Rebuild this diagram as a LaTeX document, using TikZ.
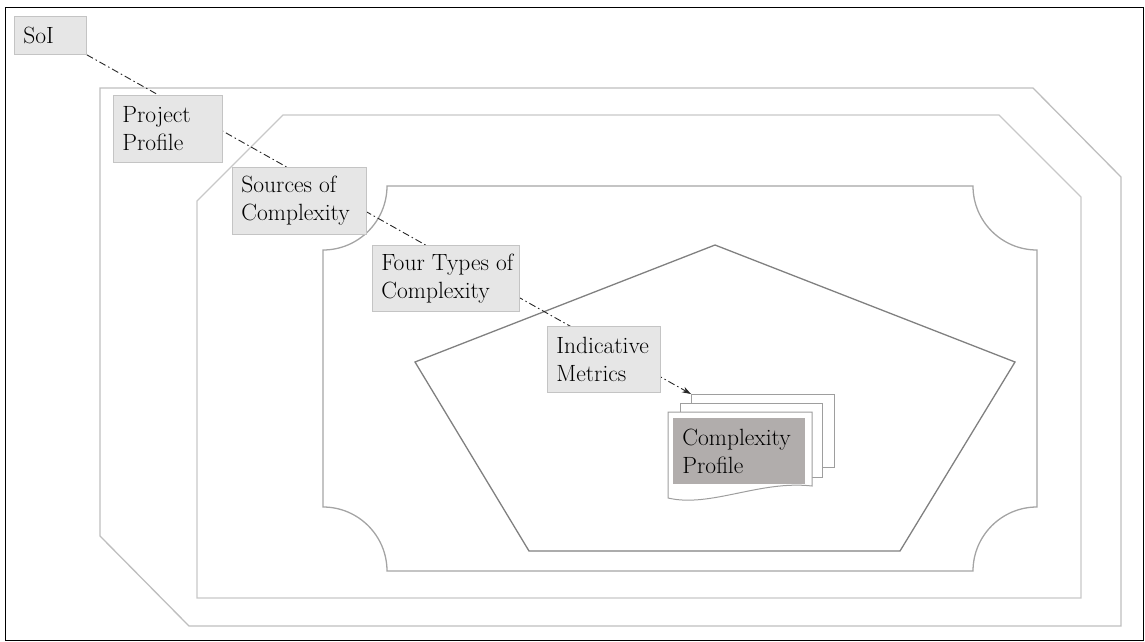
\documentclass[tikz,border=0pt]{standalone}
\usetikzlibrary{arrows.meta}
\pgfdeclarelayer{bg}
\pgfsetlayers{bg,main}
\definecolor{boxfill}{HTML}{E6E6E6}
\definecolor{boxline}{HTML}{C4C4C4}
\definecolor{octone}{HTML}{BEBEBE}
\definecolor{octtwo}{HTML}{C8C8C8}
\definecolor{framethree}{HTML}{A4A4A4}
\definecolor{pentcol}{HTML}{808080}
\definecolor{pagecol}{HTML}{9E9E9E}
\definecolor{docfill}{HTML}{B1ADAC}
\tikzset{
  lbl/.style={draw=boxline, fill=boxfill, line width=0.8pt, anchor=north west,
    inner xsep=9pt, inner ysep=0pt, align=flush left,
    font=\rmfamily\fontsize{23.5}{28}\selectfont},
  level/.style={line width=1.3pt},
  page/.style={draw=pagecol, fill=white, line width=1pt},
  chain/.style={draw=black!85, line width=0.9pt,
    dash pattern=on 7pt off 3pt on 1.5pt off 3pt, -{Stealth[length=9pt,width=6pt]}},
}
\begin{document}
\begin{tikzpicture}[x=1pt,y=-1pt]
\useasboundingbox (0,0) rectangle (1145,642);
\draw[black, line width=1pt] (5.5,7.5) rectangle (1143.5,640.5);

\begin{pgfonlayer}{bg}
% outer level
\draw[level, draw=octone] (100,88) -- (1033,88) -- (1121,177) -- (1121,626) -- (189,626) -- (100,536) -- cycle;
% second level
\draw[level, draw=octtwo] (283,115) -- (999,115) -- (1081,197) -- (1081,598) -- (197,598) -- (197,201) -- cycle;
% third level (concave corners)
\draw[level, draw=framethree] (387,186) -- (973,186)
  .. controls (973,221.3) and (1001.7,250) .. (1037,250) -- (1037,507)
  .. controls (1001.7,507) and (973,535.7) .. (973,571) -- (387,571)
  .. controls (387,535.7) and (358.3,507) .. (323,507) -- (323,250)
  .. controls (358.3,250) and (387,221.3) .. cycle;
% pentagon
\draw[level, draw=pentcol] (715,245) -- (1015,362) -- (900,551) -- (529,551) -- (415,362) -- cycle;
\end{pgfonlayer}

% document stack
\draw[page] (691,394) rectangle (834,467);
\draw[page] (680,403) rectangle (822,477);
\draw[page] (668,412) -- (812,412) -- (812,486)
  .. controls (760,480) and (710,508) .. (668,498) -- cycle;
\coordinate (docback) at (691,394);
\node[lbl, draw=none, fill=docfill, text width=114pt, minimum height=66pt] (doc) at (673,418) {Complexity\\Profile};

% labels
\node[lbl, text width=54pt, minimum height=38pt] (soi) at (14,16) {SoI};
\node[lbl, text width=91pt, minimum height=67pt] (proj) at (113,95) {Project\\Profile};
\node[lbl, text width=116pt, minimum height=67pt] (src) at (232,167) {\mbox{Sources of}\\Complexity};
\node[lbl, text width=129pt, minimum height=66pt] (four) at (372,245) {\mbox{Four Types of}\\Complexity};
\node[lbl, text width=95pt, minimum height=66pt] (ind) at (547,326) {Indicative\\Metrics};

\begin{pgfonlayer}{bg}
\draw[chain] (soi.south east) -- (docback);
\end{pgfonlayer}
\end{tikzpicture}
\end{document}
